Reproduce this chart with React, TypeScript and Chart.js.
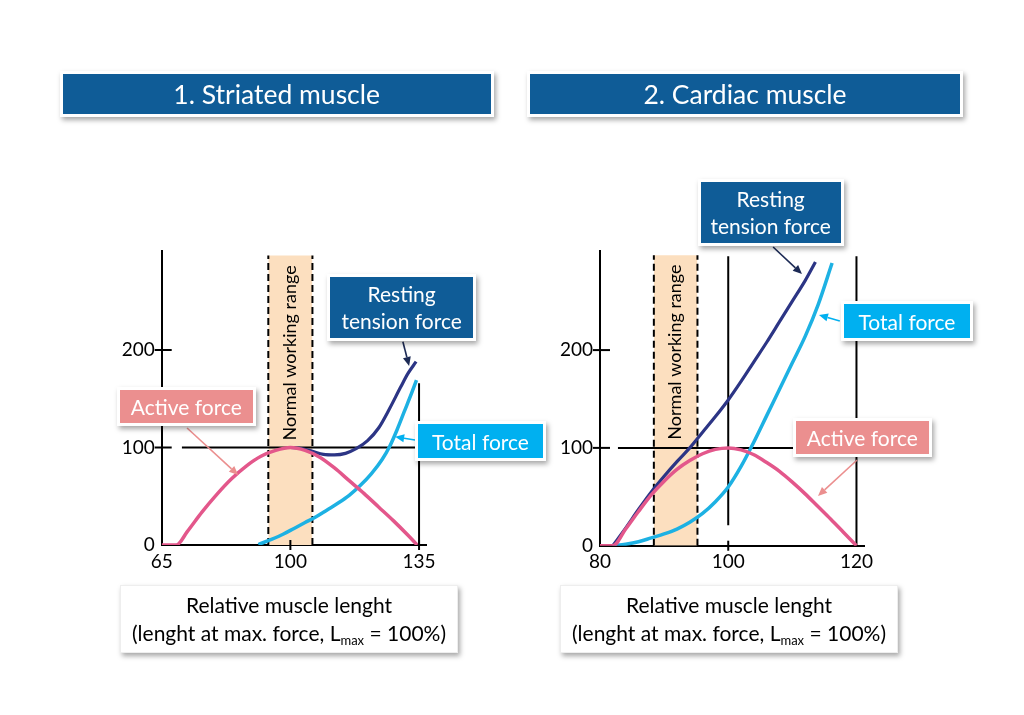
import React, { useEffect, useRef } from "react";
import { Chart, registerables } from "chart.js";

Chart.register(...registerables);

const FONT = "Lato, 'Open Sans', sans-serif";
const PINK = "#e3578b";
const NAVY = "#2c3585";
const BLUE = "#1db1e3";
const BAND = "#fcdfbf";
const DARKBOX = "#0f5c97";
const BLUEBOX = "#00b0f0";
const PINKBOX = "#eb8f8f";

// ---------- Panel 1: striated muscle ----------
const striatedXTicks = [65, 100, 135];
const striatedYTicks = [0, 100, 200];
const striatedRange = [94, 106];
const striatedActiveX = [65, 69, 72, 76, 80, 84, 88, 92, 96, 100, 104, 108, 112, 116, 120, 124, 128, 132, 134.5];
const striatedActiveY = [0, 0, 14, 34, 52, 68, 81, 91, 97, 100, 97, 90, 79, 66, 53, 39, 25, 10, 0];
const striatedRestingX = [100, 103, 106, 109, 112, 115, 118, 121, 124, 127, 130, 132, 134.2];
const striatedRestingY = [100, 99, 96, 93, 92.5, 94, 99, 107, 120, 140, 162, 176, 188];
const striatedTotalX = [91.3, 95, 98, 101, 104, 107, 110, 113, 116, 119, 122, 125, 127, 129, 131, 133, 134.3];
const striatedTotalY = [0.5, 6, 11, 17, 23, 29, 36, 43, 51, 61, 73, 88, 101, 118, 137, 156, 169];
// reference lines: x1, y1, x2, y2
const striatedRefLines = [
  [70.5, 100, 135, 100],
  [135, 0, 135, 166],
];

// ---------- Panel 2: cardiac muscle ----------
const cardiacXTicks = [80, 100, 120];
const cardiacYTicks = [0, 100, 200];
const cardiacRange = [88.4, 95.2];
const cardiacActiveX = [80, 82, 84, 86, 88, 90, 92, 94, 96, 98, 100, 102, 104, 106, 108, 110, 112, 114, 116, 118, 120];
const cardiacActiveY = [0, 0, 17, 35, 52, 66, 78, 87, 94, 98.5, 100, 98, 93, 85, 76, 65, 53, 40, 27, 13.5, 0];
const cardiacRestingX = [82, 84, 86, 88, 90, 92, 94, 96, 98, 100, 102, 104, 106, 108, 110, 112, 113.6];
const cardiacRestingY = [0, 18, 37, 55, 71, 86, 100, 116, 132, 149, 168, 188, 208, 229, 250, 271, 290];
const cardiacTotalX = [82, 84, 86, 88, 90, 92, 94, 96, 98, 100, 102, 104, 106, 108, 110, 112, 114, 116.2];
const cardiacTotalY = [0, 1.5, 4, 8, 12, 17, 24, 33, 45, 60, 81, 106, 133, 160, 187, 214, 246, 289];
const cardiacRefLines = [
  [82.8, 100, 118, 100],
  [100, 21, 100, 296],
  [120, 0, 120, 296],
];

type Arrow = { from: number[]; to: number[]; color: string; width: number };

type Panel = {
  xMin: number;
  xMax: number;
  yMax: number;
  padding: { left: number; right: number; top: number; bottom: number };
  xTicks: number[];
  yTicks: number[];
  xCross: number[];
  yCross: number[];
  range: number[];
  bandTop: number;
  refLines: number[][];
  active: number[][];
  resting: number[][];
  total: number[][];
  arrows: Arrow[];
  labelY: number;
};

const toPts = (xs: number[], ys: number[]) => xs.map((x, i) => ({ x, y: ys[i] }));

function drawArrow(ctx: CanvasRenderingContext2D, x1: number, y1: number, x2: number, y2: number, color: string, width: number) {
  const ang = Math.atan2(y2 - y1, x2 - x1);
  const head = 9;
  const hw = 4;
  const bx = x2 - head * Math.cos(ang);
  const by = y2 - head * Math.sin(ang);
  ctx.strokeStyle = color;
  ctx.fillStyle = color;
  ctx.lineWidth = width;
  ctx.beginPath();
  ctx.moveTo(x1, y1);
  ctx.lineTo(bx, by);
  ctx.stroke();
  ctx.beginPath();
  ctx.moveTo(x2, y2);
  ctx.lineTo(bx + hw * Math.sin(ang), by - hw * Math.cos(ang));
  ctx.lineTo(bx - hw * Math.sin(ang), by + hw * Math.cos(ang));
  ctx.closePath();
  ctx.fill();
}

function buildConfig(p: Panel): any {
  const curve = (pts: any, color: string, order: number, w: number) => ({
    data: pts,
    borderColor: color,
    borderWidth: w,
    pointRadius: 0,
    fill: false,
    cubicInterpolationMode: "monotone",
    order,
  });
  const datasets: any[] = [
    curve(toPts(p.active[0], p.active[1]), PINK, 1, 3.5),
    curve(toPts(p.resting[0], p.resting[1]), NAVY, 2, 3.2),
    curve(toPts(p.total[0], p.total[1]), BLUE, 3, 3.5),
    ...p.refLines.map((l) => ({
      data: [
        { x: l[0], y: l[1] },
        { x: l[2], y: l[3] },
      ],
      borderColor: "#000",
      borderWidth: 2,
      pointRadius: 0,
      fill: false,
      order: 5,
    })),
    ...p.range.map((v) => ({
      data: [
        { x: v, y: 0 },
        { x: v, y: p.bandTop },
      ],
      borderColor: "#000",
      borderWidth: 2,
      borderDash: [7, 4],
      pointRadius: 0,
      fill: false,
      order: 6,
    })),
    {
      data: [
        { x: p.range[0], y: p.bandTop },
        { x: p.range[1], y: p.bandTop },
      ],
      borderColor: "rgba(0,0,0,0)",
      borderWidth: 0,
      backgroundColor: BAND,
      pointRadius: 0,
      fill: "origin",
      order: 7,
    },
  ];

  const overlay = {
    id: "overlay",
    afterDatasetsDraw(chart: any) {
      const { ctx, chartArea } = chart;
      const x = chart.scales.x;
      const y = chart.scales.y;
      ctx.save();
      ctx.strokeStyle = "#000";
      ctx.lineWidth = 2;
      p.yCross.forEach((v) => {
        const py = y.getPixelForValue(v);
        ctx.beginPath();
        ctx.moveTo(chartArea.left - 7, py);
        ctx.lineTo(chartArea.left + 10, py);
        ctx.stroke();
      });
      p.xCross.forEach((v) => {
        const px = x.getPixelForValue(v);
        ctx.beginPath();
        ctx.moveTo(px, chartArea.bottom - 5);
        ctx.lineTo(px, chartArea.bottom + 5);
        ctx.stroke();
      });
      // rotated band label
      const cx = x.getPixelForValue((p.range[0] + p.range[1]) / 2);
      const cy = y.getPixelForValue(p.labelY);
      ctx.save();
      ctx.translate(cx, cy);
      ctx.rotate(-Math.PI / 2);
      ctx.fillStyle = "#000";
      ctx.font = `18px ${FONT}`;
      ctx.textAlign = "center";
      ctx.textBaseline = "middle";
      ctx.fillText("Normal working range", 0, 0);
      ctx.restore();
      // arrows
      p.arrows.forEach((a) => {
        drawArrow(
          ctx,
          x.getPixelForValue(a.from[0]),
          y.getPixelForValue(a.from[1]),
          x.getPixelForValue(a.to[0]),
          y.getPixelForValue(a.to[1]),
          a.color,
          a.width
        );
      });
      ctx.restore();
    },
  };

  return {
    type: "line",
    data: { datasets },
    plugins: [overlay],
    options: {
      responsive: false,
      animation: false,
      devicePixelRatio: 1,
      events: [],
      layout: { padding: p.padding },
      plugins: { legend: { display: false }, tooltip: { enabled: false } },
      scales: {
        x: {
          type: "linear",
          min: p.xMin,
          max: p.xMax,
          afterFit: (s: any) => {
            s.height = 30;
          },
          afterBuildTicks: (s: any) => {
            s.ticks = p.xTicks.map((v) => ({ value: v }));
          },
          grid: { display: false, drawTicks: false },
          border: { display: true, color: "#000", width: 2 },
          ticks: {
            color: "#000",
            font: { family: FONT, size: 19 },
            padding: 5,
            maxRotation: 0,
            autoSkip: false,
            callback: (v: any) => String(v),
          },
        },
        y: {
          type: "linear",
          min: 0,
          max: p.yMax,
          afterFit: (s: any) => {
            s.width = 50;
          },
          afterBuildTicks: (s: any) => {
            s.ticks = p.yTicks.map((v) => ({ value: v }));
          },
          grid: { display: false, drawTicks: false },
          border: { display: true, color: "#000", width: 2 },
          ticks: {
            color: "#000",
            font: { family: FONT, size: 19 },
            padding: 7,
            autoSkip: false,
            callback: (v: any) => String(v),
          },
        },
      },
    },
  };
}

const striatedPanel: Panel = {
  xMin: 65,
  xMax: 137,
  yMax: 302,
  padding: { left: 111.7, right: 597.6, top: 250.55, bottom: 140 },
  xTicks: striatedXTicks,
  yTicks: striatedYTicks,
  xCross: [100, 135],
  yCross: [100, 200],
  range: striatedRange,
  bandTop: 297,
  refLines: striatedRefLines,
  active: [striatedActiveX, striatedActiveY],
  resting: [striatedRestingX, striatedRestingY],
  total: [striatedTotalX, striatedTotalY],
  labelY: 197,
  arrows: [
    { from: [130.6, 208.5], to: [132.3, 183.6], color: "#1c2a55", width: 1.6 },
    { from: [133.9, 107.7], to: [128.5, 111], color: BLUEBOX, width: 1.6 },
    { from: [71.9, 120], to: [85.8, 71.8], color: PINKBOX, width: 1.6 },
  ],
};

const cardiacPanel: Panel = {
  xMin: 80,
  xMax: 121.3,
  yMax: 301,
  padding: { left: 550, right: 159.2, top: 251.3, bottom: 139.3 },
  xTicks: cardiacXTicks,
  yTicks: cardiacYTicks,
  xCross: [100],
  yCross: [100, 200],
  range: cardiacRange,
  bandTop: 297,
  refLines: cardiacRefLines,
  active: [cardiacActiveX, cardiacActiveY],
  resting: [cardiacRestingX, cardiacRestingY],
  total: [cardiacTotalX, cardiacTotalY],
  labelY: 198,
  arrows: [
    { from: [107.0, 305.4], to: [111.5, 277.8], color: "#1c2a55", width: 1.6 },
    { from: [117.4, 229.8], to: [114.15, 235.9], color: BLUEBOX, width: 1.6 },
    { from: [120.1, 87.6], to: [114.0, 50.8], color: PINKBOX, width: 1.6 },
  ],
};

function PanelChart({ panel }: { panel: Panel }) {
  const ref = useRef<HTMLCanvasElement>(null);
  useEffect(() => {
    const chart = new Chart(ref.current as HTMLCanvasElement, buildConfig(panel));
    return () => chart.destroy();
  }, [panel]);
  return (
    <canvas
      ref={ref}
      width={1024}
      height={715}
      style={{ position: "absolute", left: 0, top: 0, width: 1024, height: 715 }}
    />
  );
}

const boxBase: React.CSSProperties = {
  position: "absolute",
  boxSizing: "border-box",
  border: "3px solid #fff",
  boxShadow: "2px 3px 5px rgba(0,0,0,0.35)",
  color: "#fff",
  fontFamily: FONT,
  display: "flex",
  alignItems: "center",
  justifyContent: "center",
  textAlign: "center",
  zIndex: 2,
};

function Box({ l, t, w, h, bg, size, children, color }: any) {
  return (
    <div style={{ ...boxBase, left: l, top: t, width: w, height: h, background: bg, fontSize: size, lineHeight: "27px", color: color || "#fff" }}>
      <div>{children}</div>
    </div>
  );
}

function AxisLabel({ l }: { l: number }) {
  return (
    <div
      style={{
        ...boxBase,
        left: l,
        top: 585,
        width: 338,
        height: 68,
        background: "#fff",
        border: "1px solid #eee",
        color: "#000",
        fontSize: 21,
        lineHeight: "28px",
      }}
    >
      <div>
        Relative muscle lenght
        <br />
        (lenght at max. force, L<sub style={{ fontSize: 13, verticalAlign: "-4px", lineHeight: 0 }}>max</sub> = 100%)
      </div>
    </div>
  );
}

export default function App() {
  return (
    <div style={{ position: "absolute", left: 0, top: 0, width: 1024, height: 715, background: "#fff", overflow: "hidden" }}>
      <PanelChart panel={striatedPanel} />
      <PanelChart panel={cardiacPanel} />
      <Box l={59.7} t={71} w={434} h={46} bg={DARKBOX} size={26.5}>1. Striated muscle</Box>
      <Box l={527} t={71} w={436} h={46} bg={DARKBOX} size={26.5}>2. Cardiac muscle</Box>
      <Box l={327} t={273.7} w={149.3} h={67.6} bg={DARKBOX} size={21}>Resting<br />tension force</Box>
      <Box l={415} t={421} w={131} h={40} bg={BLUEBOX} size={21}>Total force</Box>
      <Box l={117} t={387} w={138.7} h={39.3} bg={PINKBOX} size={21}>Active force</Box>
      <Box l={697.7} t={178.7} w={146} h={67} bg={DARKBOX} size={21}>Resting<br />tension force</Box>
      <Box l={841} t={301} w={132} h={40.3} bg={BLUEBOX} size={21}>Total force</Box>
      <Box l={792.7} t={418} w={139.3} h={39.3} bg={PINKBOX} size={21}>Active force</Box>
      <AxisLabel l={120} />
      <AxisLabel l={560} />
    </div>
  );
}
